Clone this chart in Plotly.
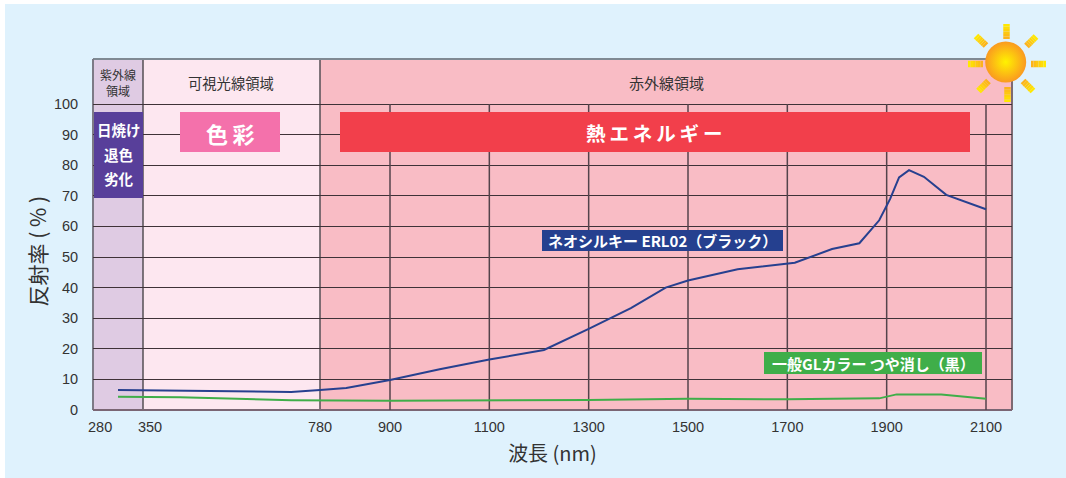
import numpy as np
import plotly.graph_objects as go

# ---- data ----
blue_wavelength = [315, 350, 710, 780, 825, 900, 1000, 1100, 1210, 1300, 1385, 1455, 1500, 1600, 1715, 1790, 1845, 1885, 1907, 1925, 1945, 1975, 2020, 2100]
blue_reflectance = [6.5, 6.4, 5.9, 6.5, 7.2, 9.8, 13.3, 16.5, 19.6, 26.5, 33.3, 40.0, 42.3, 46.0, 48.1, 52.6, 54.5, 62.0, 69.0, 76.0, 78.4, 76.2, 70.3, 65.6]
green_wavelength = [315, 350, 440, 710, 900, 1300, 1500, 1700, 1885, 1920, 2010, 2100]
green_reflectance = [4.3, 4.3, 4.2, 3.2, 3.0, 3.3, 3.7, 3.5, 3.8, 5.1, 5.1, 3.7]
x_tick_labels = ["280", "350", "780", "900", "1100", "1300", "1500", "1700", "1900", "2100"]
x_tick_label_wavelengths = [290, 367, 780, 900, 1100, 1300, 1500, 1700, 1900, 2100]
x_grid_wavelengths = [900, 1100, 1300, 1500, 1700, 1900, 2100]
y_ticks = list(range(0, 101, 10))
region_names = ["紫外線<br>領域", "可視光線領域", "赤外線領域"]

# piecewise axis of the original: wavelength -> position on the drawn axis
W, H = 1066, 478
L, R, T, B = 93, 1012, 59, 410
wl_anchor = [280, 350, 780, 900, 2100, 2152]
pos_anchor = [93, 143, 320, 390, 986, 1012]
def ax(w):
    return np.interp(w, wl_anchor, pos_anchor)
def px(x):
    return (x - L) / (R - L)
def py(y):
    return (B - y) / (B - T)

JP = "Noto Sans CJK JP"
LAT = "Liberation Sans"
GRID = "#3f3238"

shapes = []
def rect(x0, y0, x1, y1, color, layer="above"):
    shapes.append(dict(type="rect", xref="paper", yref="paper", x0=px(x0), x1=px(x1),
                       y0=py(y0), y1=py(y1), fillcolor=color, line_width=0, layer=layer))
def pline(x0, y0, x1, y1, color, width, layer="above"):
    shapes.append(dict(type="line", xref="paper", yref="paper", x0=px(x0), x1=px(x1),
                       y0=py(y0), y1=py(y1), line=dict(color=color, width=width), layer=layer))

# page background and wavelength regions
rect(5, 4, W, H, "#dff2fd", "below")
rect(ax(280), T, ax(350), B, "#dfcbe3", "below")
rect(ax(350), T, ax(780), B, "#fde7f0", "below")
rect(ax(780), T, R, B, "#f9bcc5", "below")

# verticals
for w in x_grid_wavelengths:
    shapes.append(dict(type="line", xref="x", yref="y", x0=ax(w), x1=ax(w), y0=0, y1=100,
                       line=dict(color="#54434b", width=1.5), layer="between"))
for w in (350, 780):
    pline(ax(w), T, ax(w), B, "#544f55", 1.5, "between")

# panel border (the sun sits on top of it)
pline(L, T, R, T, "#7f8a93", 2, "between")
pline(L, T, L, B, "#7d7a86", 2, "between")
pline(R, T, R, B, "#7d6a72", 2, "between")
pline(L, B, R, B, "#7a6674", 2, "between")

# labelled boxes
rect(94, 112, 143, 198, "#583f9a")
rect(180, 112, 280, 152, "#f471ab")
rect(340, 112, 970, 152, "#f23f4b")
rect(542, 230, 783, 251, "#25408f")
rect(764, 352, 982, 374, "#3fae49")

# sun rays
def hex_mix(a, b, t):
    ca = [int(a[i:i + 2], 16) for i in (1, 3, 5)]
    cb = [int(b[i:i + 2], 16) for i in (1, 3, 5)]
    return "#%02x%02x%02x" % tuple(round(p + (q - p) * t) for p, q in zip(ca, cb))
rays = [((1006.5, 24), (1006.5, 39)), ((1046, 64), (1031, 64)), ((968, 64), (983, 64)), ((1007.5, 102), (1007.5, 87)),
        ((1036, 36.5), (1026.5, 46)), ((976, 36), (986, 45.5)), ((978.5, 91), (988.5, 81)), ((1033, 91), (1023, 81))]
for (x0, y0), (x1, y1) in rays:
    n = 6
    for i in range(n):
        pline(x0 + (x1 - x0) * i / n, y0 + (y1 - y0) * i / n,
              x0 + (x1 - x0) * (i + 1) / n, y0 + (y1 - y0) * (i + 1) / n,
              hex_mix("#ffe800", "#fcb31c", i / (n - 1)), 6.5)

def note(x, y, text, size, color="#333333", bold=False, **kw):
    t = f"<b>{text}</b>" if bold else text
    return dict(xref="paper", yref="paper", x=px(x), y=py(y), text=t, showarrow=False,
                font=dict(family=JP, size=size, color=color), xanchor="center", yanchor="middle", **kw)

TS = "\u2009"
annotations = [
    note(118, 82, region_names[0], 12, align="center"),
    note(231, 82, region_names[1], 14.3),
    note(666.5, 82, region_names[2], 15),
    note(118.5, 129, "日焼け", 14.5, "white", True),
    note(118.5, 154, "退色", 14.5, "white", True),
    note(118.5, 178, "劣化", 14.5, "white", True),
    note(230, 132.5, "色" + TS + "彩", 22, "white", True),
    note(654, 132.5, TS.join("熱エネルギー"), 19.5, "white", True),
    note(662.5, 240.5, "ネオシルキー ERL02（ブラック）", 15, "white", True),
    note(873, 363, "一般GLカラー つや消し（黒）", 15, "white", True),
    note(36, 251.5, "反射率 ( % )", 21, textangle=-90),
]

fig = go.Figure()
fig.add_trace(go.Scatter(x=ax(blue_wavelength), y=blue_reflectance, mode="lines",
                         line=dict(color="#27408f", width=2), hoverinfo="skip", showlegend=False))
fig.add_trace(go.Scatter(x=ax(green_wavelength), y=green_reflectance, mode="lines",
                         line=dict(color="#3fae49", width=2), hoverinfo="skip", showlegend=False))
# the sun
fig.add_trace(go.Scatter(x=[1005.7], y=[(B - 62) / 3.06], mode="markers", cliponaxis=False,
                         marker=dict(size=41, color="#fa9a20", line_width=0,
                                     gradient=dict(type="radial", color="#fff200")),
                         hoverinfo="skip", showlegend=False))

fig.update_layout(
    width=W, height=H, paper_bgcolor="white", plot_bgcolor="rgba(0,0,0,0)",
    margin=dict(l=L, r=W - R, t=T, b=H - B, pad=0), showlegend=False,
    shapes=shapes, annotations=annotations,
    xaxis=dict(range=[L, R], tickmode="array", tickvals=list(ax(x_tick_label_wavelengths)), ticktext=x_tick_labels,
               showgrid=False, zeroline=False, showline=False, ticks="outside", ticklen=4, tickcolor="rgba(0,0,0,0)",
               tickfont=dict(family=LAT, size=14.5, color="#333333"),
               title=dict(text="波長 (nm)", font=dict(family=JP, size=20, color="#333333"), standoff=12)),
    yaxis=dict(range=[0, (B - T) / 3.06], tickmode="array", tickvals=y_ticks,
               showgrid=True, gridcolor=GRID, gridwidth=1.2, zeroline=False, showline=False,
               ticks="outside", ticklen=11, tickcolor="rgba(0,0,0,0)",
               tickfont=dict(family=LAT, size=14.5, color="#333333")),
)
fig.write_html("out.html", config={"displayModeBar": False},
               post_script="document.body.style.margin='0';document.documentElement.style.overflow='hidden';")
